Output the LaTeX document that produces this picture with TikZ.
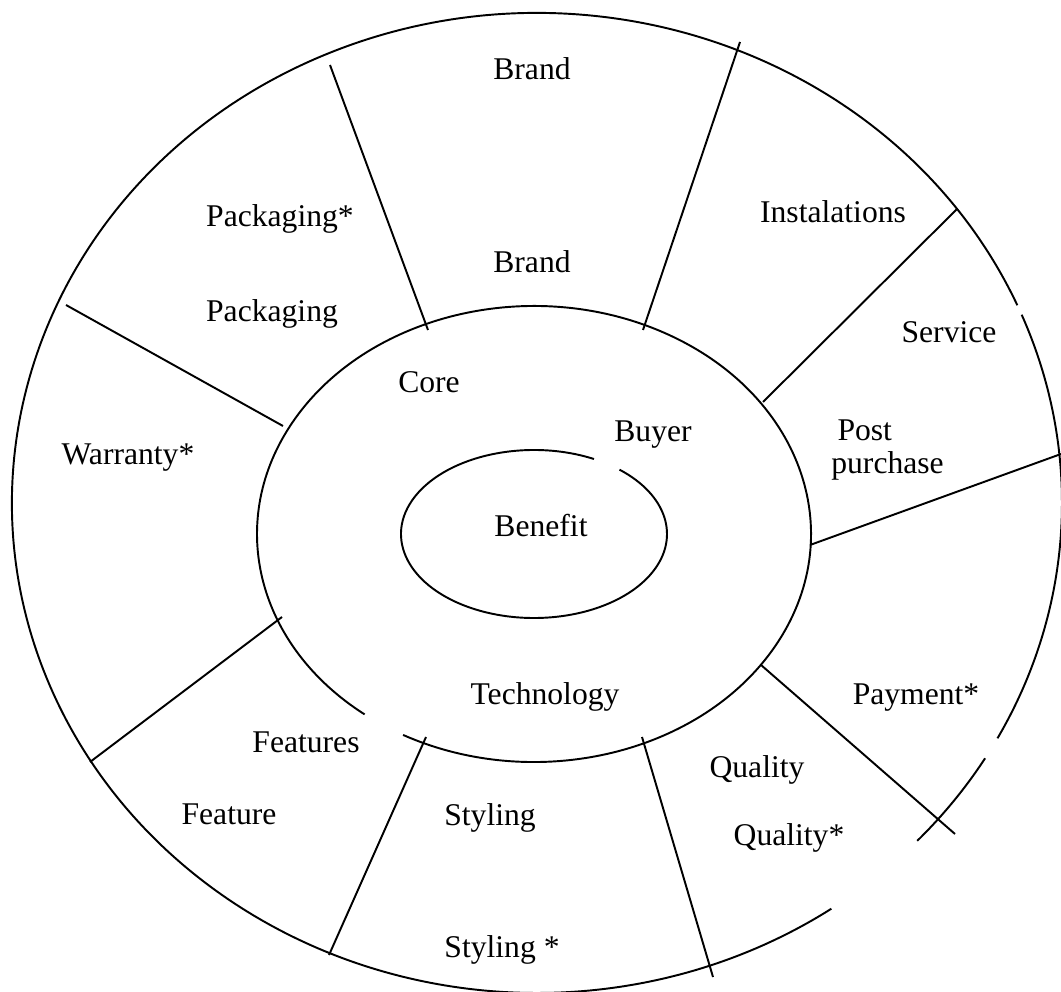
\documentclass[tikz,border=0pt]{standalone}
\usepackage{fontspec}
\setmainfont{Liberation Serif}
\usepackage{tikz}

\begin{document}
\begin{tikzpicture}[
    x=0.02cm, y=0.02cm,
    ring/.style={line width=1.1pt},
    divider/.style={line width=1.1pt},
    lbl/.style={
        font=\fontsize{18}{19}\selectfont,
        inner sep=0pt,
        anchor=base
    }
]
\useasboundingbox (0,0) rectangle (1061,991);

% the three rings, each with its small breaks
\draw[ring, shift={(537,488)}] (-28.7:525 and 490) arc[start angle=-28.7, end angle=22.6, x radius=525, y radius=490];
\draw[ring, shift={(537,488)}] (23.8:525 and 490) arc[start angle=23.8, end angle=304.1, x radius=525, y radius=490];
\draw[ring, shift={(537,488)}] (-43.6:525 and 490) arc[start angle=-43.6, end angle=-31.4, x radius=525, y radius=490];
\draw[ring, shift={(534,457)}] (241.8:277 and 228) arc[start angle=241.8, end angle=592.3, x radius=277, y radius=228];
\draw[ring, shift={(534,457)}] (63.2:133 and 84) arc[start angle=63.2, end angle=410, x radius=133, y radius=84];

% dividers of the outer ring
\draw[divider] (330,926) -- (428,661);
\draw[divider] (740,949) -- (643,661);
\draw[divider] (957,782) -- (763,589);
\draw[divider] (810,446) -- (1061,537);
\draw[divider] (761,326) -- (955,157);
\draw[divider] (642,254) -- (713,14);
\draw[divider] (426,254) -- (329,36);
\draw[divider] (282,374) -- (90,229);
\draw[divider] (66,686) -- (283,565);

% centre and middle ring
\node[lbl] (benefit) at (541,454) {Benefit};
\node[lbl] (buyer) at (653,549) {Buyer};
\node[lbl] (core) at (429,598) {Core};
\node[lbl] (tech) at (545,287) {Technology};

% outer ring
\node[lbl] (brandtop) at (532,911) {Brand};
\node[lbl] (brand) at (532,718) {Brand};
\node[lbl] (packstar) at (280,764) {Packaging*};
\node[lbl] (pack) at (272,669) {Packaging};
\node[lbl] (warranty) at (128,526) {Warranty*};
\node[lbl] (install) at (833,768) {Instalations};
\node[lbl] (service) at (949,648) {Service};
\node[lbl, anchor=base west, align=left] (post) at (831,517) {\hspace{3.5pt}Post\\purchase};
\node[lbl] (payment) at (916,287) {Payment*};
\node[lbl] (quality) at (757,214) {Quality};
\node[lbl] (qualstar) at (789,146) {Quality*};
\node[lbl] (styling) at (490,166) {Styling};
\node[lbl] (stylstar) at (502,34) {Styling *};
\node[lbl] (features) at (306,239) {Features};
\node[lbl] (feature) at (229,167) {Feature};
\end{tikzpicture}
\end{document}
